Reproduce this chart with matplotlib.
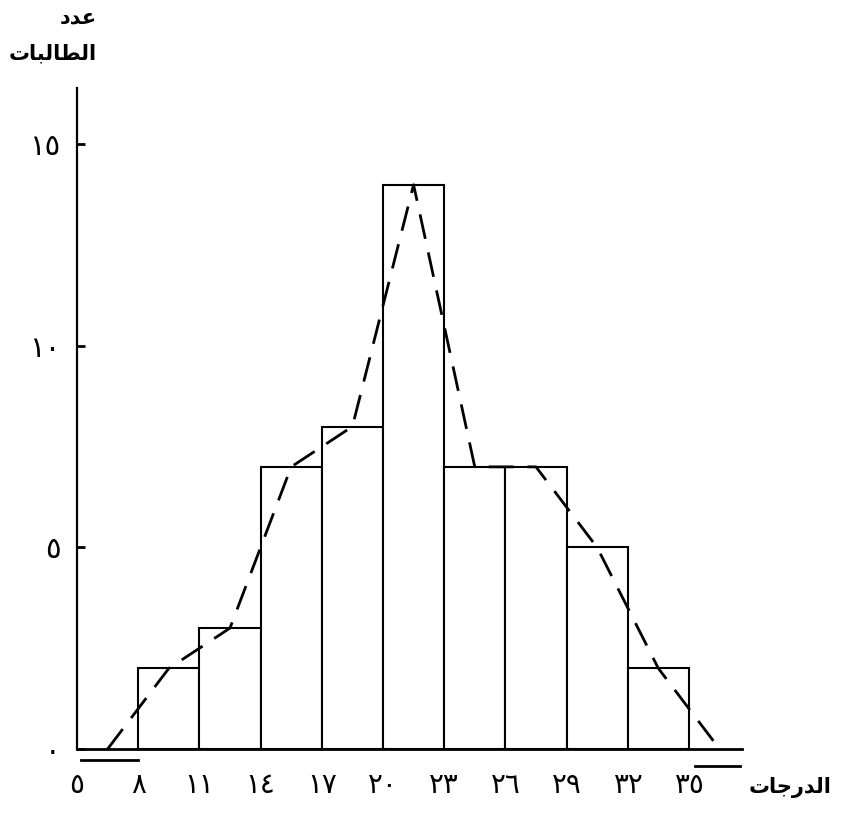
import matplotlib
matplotlib.use("Agg")
import matplotlib.pyplot as plt
import numpy as np

# ---- data ----
class_edges = [8, 11, 14, 17, 20, 23, 26, 29, 32, 35]
frequencies = [2, 3, 7, 8, 14, 7, 7, 5, 2]
x_ticks = [5, 8, 11, 14, 17, 20, 23, 26, 29, 32, 35]
y_ticks = [0, 5, 10, 15]
x_label = "الدرجات"
y_label_lines = ["عدد", "الطالبات"]

AR_DIGITS = "٠١٢٣٤٥٦٧٨٩"
def ar_num(n):
    return "".join(AR_DIGITS[int(c)] for c in str(n))

# minimal Arabic shaping (matplotlib has no complex text layout)
FORMS = {
    "ا": ("\uFE8D", "\uFE8E", None, None),
    "ب": ("\uFE8F", "\uFE90", "\uFE91", "\uFE92"),
    "ت": ("\uFE95", "\uFE96", "\uFE97", "\uFE98"),
    "ج": ("\uFE9D", "\uFE9E", "\uFE9F", "\uFEA0"),
    "د": ("\uFEA9", "\uFEAA", None, None),
    "ر": ("\uFEAD", "\uFEAE", None, None),
    "ط": ("\uFEC1", "\uFEC2", "\uFEC3", "\uFEC4"),
    "ع": ("\uFEC9", "\uFECA", "\uFECB", "\uFECC"),
    "ل": ("\uFEDD", "\uFEDE", "\uFEDF", "\uFEE0"),
}
def shape(word):
    out = []
    n = len(word)
    for i, ch in enumerate(word):
        iso, fin, ini, med = FORMS[ch]
        prev_joins = i > 0 and FORMS[word[i - 1]][2] is not None
        next_exists = i < n - 1
        can_left = ini is not None
        if prev_joins and next_exists and can_left:
            g = med
        elif prev_joins:
            g = fin
        elif next_exists and can_left:
            g = ini
        else:
            g = iso
        out.append(g)
    return "".join(reversed(out))

W, H = 844, 818
fig = plt.figure(figsize=(W / 100, H / 100), dpi=100)
left_px, right_px, bottom_px, top_px = 77, 742, 749, 88
ax = fig.add_axes([left_px / W, 1 - bottom_px / H,
                   (right_px - left_px) / W, (bottom_px - top_px) / H])

widths = np.diff(class_edges)
ax.bar(class_edges[:-1], frequencies, width=widths, align="edge",
       facecolor="white", edgecolor="black", linewidth=1.5, zorder=2)

# frequency polygon through class midpoints, closed to zero on both ends
mids = [(a + b) / 2 for a, b in zip(class_edges[:-1], class_edges[1:])]
w0 = widths[0]
poly_x = [mids[0] - w0] + mids + [mids[-1] + w0]
poly_y = [0] + frequencies + [0]
ax.plot(poly_x, poly_y, color="black", linewidth=2.0,
        dashes=(9, 5), zorder=3)

ax.set_xlim(5, 37.6)
ax.set_ylim(0, 16.4)
for s in ["top", "right"]:
    ax.spines[s].set_visible(False)
ax.spines["left"].set_linewidth(1.6)
ax.spines["bottom"].set_linewidth(2.0)

ax.set_yticks(y_ticks)
ax.set_yticklabels([ar_num(v) for v in y_ticks], fontsize=21)
ax.tick_params(axis="y", direction="in", length=6, width=2, pad=12)
ax.set_xticks(x_ticks)
ax.set_xticklabels([ar_num(v) for v in x_ticks], fontsize=20)
ax.tick_params(axis="x", length=0, pad=16)

# small marks under the axis ends
ax.plot([5.2, 8.0], [-0.27, -0.27], color="black", linewidth=2.0,
        clip_on=False)
ax.plot([35.3, 37.5], [-0.42, -0.42], color="black", linewidth=2.0,
        clip_on=False)

fig.text(790 / W, 1 - 788 / H, shape(x_label), ha="center", va="center",
         fontsize=15, fontweight="bold")
fig.text(97 / W, 1 - 17 / H, shape(y_label_lines[0]), ha="right",
         va="center", fontsize=15, fontweight="bold")
fig.text(97 / W, 1 - 53 / H, shape(y_label_lines[1]), ha="right",
         va="center", fontsize=15, fontweight="bold")

fig.savefig("out.png", dpi=100, facecolor="white")
